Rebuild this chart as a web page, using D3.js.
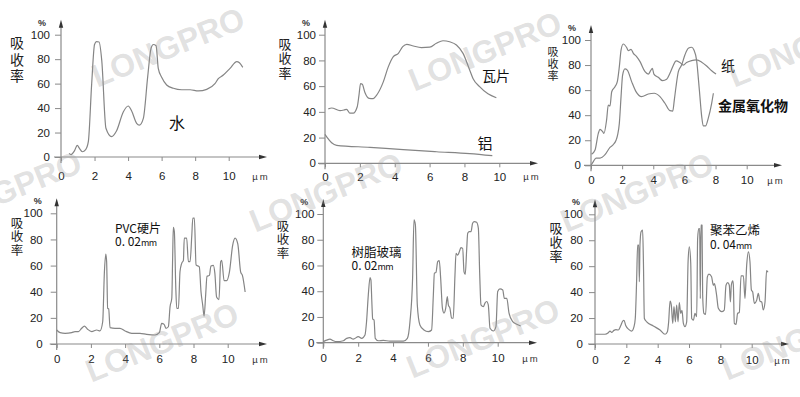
<!DOCTYPE html>
<html>
<head>
<meta charset="utf-8">
<script src="https://cdn.jsdelivr.net/npm/d3@7"></script>
<style>
  body { margin: 0; background: #fff; }
  svg { display: block; font-family: "Liberation Sans", Arial, sans-serif; }
  .cn { font-family: "Noto Sans CJK SC", sans-serif; }
</style>
</head>
<body>
<svg id="chart" width="800" height="397"></svg>
<script>
const xTicks = [0, 2, 4, 6, 8, 10];
const yTicks = [0, 20, 40, 60, 80, 100];

// absorption spectra, [wavelength µm, absorption %]
const water = [[0.48,3],[0.6,2],[0.8,5],[0.97,9.5],[1.1,7],[1.27,4.3],[1.47,6],[1.63,12.5],[1.83,60],[2.0,92],[2.12,94.3],[2.27,94],[2.43,79],[2.68,23.5],[3.02,16.6],[3.3,21],[3.72,37],[4.01,41.7],[4.2,38],[4.51,27.5],[4.67,26],[4.91,31.6],[5.17,65.7],[5.37,88.9],[5.51,92],[5.67,91],[5.8,72.5],[6.01,65],[6.3,58.9],[6.7,56.2],[7.2,55],[7.7,55],[8.19,54],[8.69,55.3],[9.18,60],[9.38,64],[9.68,67],[10.08,72.5],[10.48,78],[10.64,77],[10.84,73.3]];
const tile = [[0.19,42.3],[0.38,43],[0.86,41],[1.1,41.5],[1.24,42],[1.43,39],[1.62,39],[1.85,44],[1.95,53],[2.04,62],[2.14,61.5],[2.29,55],[2.53,50.5],[2.76,50.3],[2.99,53.5],[3.35,63.5],[3.63,75],[3.92,83],[4.21,85.5],[4.46,90.7],[4.69,92.5],[5.07,91.2],[5.53,90],[6.01,90.3],[6.39,93.3],[6.77,95.3],[7.15,94.5],[7.54,92],[7.92,85.5],[8.3,72.6],[8.49,66],[8.87,59.6],[9.35,54],[9.83,51]];
const aluminum = [[0,22.5],[0.13,20],[0.38,16],[0.67,14],[2.58,12.4],[4.49,10.6],[6.4,9],[8.3,7.5],[9.6,5.9]];
const paper = [[0.04,8.8],[0.26,12.2],[0.47,25.5],[0.58,28.7],[0.75,26.8],[0.83,25.5],[1.0,36],[1.11,48],[1.22,47.3],[1.33,58.7],[1.54,62.7],[1.69,66.7],[1.82,78.7],[1.93,92],[2.07,96.8],[2.29,94],[2.4,91.5],[2.57,92.5],[2.72,89.4],[2.93,86.7],[3.15,82.7],[3.47,74.7],[3.68,72.8],[3.83,75.5],[3.94,77.4],[4.04,72.8],[4.32,70.2],[4.6,67.5],[4.86,68.6],[5.07,73.4],[5.29,79.8],[5.46,83.3],[5.71,82],[5.93,80],[6.14,82],[6.46,83.6],[6.78,84.1],[7.11,82.3],[7.43,79.2],[7.75,75.5],[8.03,72.8]];
const metalOxide = [[0,0],[0.15,3],[0.32,5.8],[0.58,5.8],[0.9,8.5],[1.22,14.3],[1.43,16.5],[1.61,20],[1.71,24.3],[1.82,33.5],[1.93,54.8],[2.03,72],[2.18,76.9],[2.33,76],[2.61,66.8],[2.89,58.8],[3.25,54.8],[3.68,56.9],[4.06,57.5],[4.43,54.8],[4.75,49.5],[5.07,43.6],[5.25,43.3],[5.35,52],[5.46,62.7],[5.61,74.7],[5.82,80],[6.03,88],[6.25,93.4],[6.46,94.2],[6.61,92],[6.78,84],[6.96,60],[7.11,38.9],[7.21,31.4],[7.36,31.4],[7.53,37.5],[7.75,49.5],[7.86,57.5]];
const pvc = [[0,10.7],[0.2,8.7],[0.49,8.2],[0.88,8.7],[1.07,9.5],[1.27,9.5],[1.46,12],[1.62,13.7],[1.79,11.5],[2.05,9.5],[2.34,10.7],[2.53,10],[2.69,17],[2.79,55.3],[2.87,68.7],[2.92,63],[2.98,27.3],[3.04,26.8],[3.12,12.5],[3.41,12],[3.7,12],[4.0,10],[4.39,8.2],[4.87,8.2],[5.26,7.4],[5.75,6.9],[6.0,8.7],[6.14,15.8],[6.28,15],[6.39,12],[6.53,13.2],[6.63,28.6],[6.73,35],[6.78,65.6],[6.82,89.3],[6.88,86],[6.96,45],[7.02,27.3],[7.12,27.3],[7.21,55.3],[7.31,61.7],[7.41,64],[7.46,81],[7.6,81],[7.7,63],[7.8,63],[7.9,83],[7.96,96.3],[8.05,96.3],[8.15,60.5],[8.34,59],[8.44,39.8],[8.54,29.6],[8.62,21.4],[8.71,37.2],[8.79,51.8],[8.93,52.5],[9.02,59.7],[9.16,60.2],[9.25,54],[9.35,36],[9.49,34],[9.59,63],[9.65,64],[9.79,48.5],[9.94,48.5],[10.1,55],[10.29,75.5],[10.43,81],[10.59,76.6],[10.76,55],[10.86,52.5],[11.02,39.8]];
const acrylic = [[0,0.8],[0.19,2],[0.38,2.8],[0.57,1.5],[0.77,0.8],[1.15,1.5],[1.34,3.4],[1.53,3.9],[1.72,2.8],[2.01,4.7],[2.2,3.4],[2.39,6],[2.48,16.4],[2.58,37],[2.68,50.6],[2.73,48.8],[2.79,29.4],[2.83,18.5],[2.91,17.6],[2.98,3.4],[3.16,1.5],[3.44,1.8],[3.82,1.2],[4.59,1.2],[4.82,3.4],[4.97,16.4],[5.12,50],[5.2,95.4],[5.28,91.5],[5.39,29.4],[5.54,13.8],[5.77,9.9],[6.02,8.6],[6.21,9.9],[6.31,37],[6.37,54],[6.46,54.7],[6.56,63],[6.65,63.8],[6.73,50],[6.83,26.8],[6.92,23],[7.02,26.8],[7.11,35.8],[7.17,29.4],[7.26,26.8],[7.36,19],[7.45,19],[7.55,52.5],[7.61,69.4],[7.7,68],[7.8,70.7],[7.89,73.8],[7.99,73.3],[8.07,55],[8.14,53],[8.22,72],[8.28,85],[8.37,86.3],[8.47,86.3],[8.56,92.8],[8.66,94.1],[8.79,93.6],[8.89,89],[8.97,52.5],[9.04,29.4],[9.18,28],[9.27,30.7],[9.37,32],[9.46,29.4],[9.56,11.2],[9.75,9.1],[9.9,12.5],[10.0,39.7],[10.13,41.8],[10.29,41],[10.38,34.5],[10.52,34.5],[10.65,23],[10.86,16.4],[11.09,14.3],[11.32,13]];
const polystyrene = [[0,7.5],[0.64,7.5],[0.85,8.7],[0.96,10],[1.06,9],[1.21,10.5],[1.34,11.1],[1.49,10.8],[1.64,14],[1.77,17.7],[1.85,18.3],[1.96,14.2],[2.17,11.1],[2.34,10],[2.49,13.4],[2.57,19.7],[2.66,50.6],[2.72,76.3],[2.79,76.3],[2.83,48],[2.87,76.3],[2.94,86.6],[3.04,87.8],[3.09,63.4],[3.15,19.7],[3.3,17.1],[3.72,13.9],[4.15,10.8],[4.47,7.5],[4.62,9.5],[4.7,17.1],[4.79,33],[4.87,30],[4.96,15.9],[5.04,28.8],[5.13,17.1],[5.21,30],[5.3,17.1],[5.38,32],[5.47,23.6],[5.55,26],[5.64,15.9],[5.74,13.4],[5.85,17.1],[5.94,63.4],[6.02,75],[6.11,62.1],[6.17,19.7],[6.28,18.4],[6.38,23.6],[6.49,21],[6.55,81.3],[6.62,89],[6.68,89],[6.72,35],[6.76,91.6],[6.83,91.6],[6.87,37.7],[6.95,23.6],[7.06,22.8],[7.17,51.8],[7.27,53.8],[7.44,51.8],[7.55,45.3],[7.62,46.6],[7.68,44],[7.76,37.7],[7.87,27.5],[8.08,24.9],[8.25,26.2],[8.36,45.3],[8.47,47.3],[8.57,45.3],[8.64,32.4],[8.7,45.3],[8.79,48.6],[8.83,45.3],[8.89,15.9],[9.0,15.1],[9.1,23.6],[9.21,24.4],[9.32,52.6],[9.47,52.6],[9.57,35],[9.68,60.8],[9.79,71],[9.89,63.4],[9.98,41.6],[10.06,40.3],[10.17,31.3],[10.32,33.8],[10.42,39],[10.53,33],[10.64,32.4],[10.74,26.2],[10.85,32.4],[10.95,56.6],[11.04,55.3]];

const panels = [
  { ox: 61, x10: 228.7, oy: 157, y100: 34.7, xEnd: 267, xPad: 11, yGap: 5, ylabX: 17, ylabY: 43, ylabStep: 16.5, ylabSize: 14,
    series: [water],
    notes: [{ t: '水', x: 177, y: 123, s: 16 }] },
  { ox: 325, x10: 499.3, oy: 163.3, y100: 34.7, xEnd: 538, xPad: 5.5, yGap: 3, ylabX: 285, ylabY: 44, ylabStep: 14.5, ylabSize: 13,
    series: [tile, aluminum],
    notes: [{ t: '瓦片', x: 496, y: 76, s: 14 }, { t: '铝', x: 485, y: 143.5, s: 15 }] },
  { ox: 591, x10: 746.7, oy: 165.3, y100: 40, xEnd: 782, xPad: 6.7, yGap: 4, ylabX: 553, ylabY: 51.7, ylabStep: 12, ylabSize: 11,
    series: [paper, metalOxide],
    notes: [{ t: '纸', x: 728, y: 66, s: 14 }, { t: '金属氧化物', x: 753, y: 106, s: 14, bold: true }] },
  { ox: 56.7, x10: 227.7, oy: 344, y100: 213.3, xEnd: 267, xPad: 7.3, yGap: 8, ylabX: 17, ylabY: 223, ylabStep: 13.5, ylabSize: 12.5,
    series: [pvc],
    notes: [{ t: 'PVC硬片', sub: '0. 02', unit: 'mm', x: 115, y: 228.5, y2: 242, s: 12, left: true }] },
  { ox: 323.3, x10: 497.7, oy: 342.7, y100: 214, xEnd: 537, xPad: 7.6, yGap: 3, ylabX: 283, ylabY: 226, ylabStep: 13.5, ylabSize: 12.5,
    series: [acrylic],
    notes: [{ t: '树脂玻璃', sub: '0. 02', unit: 'mm', x: 351.5, y: 252.5, y2: 266, s: 12.5, left: true }] },
  { ox: 595, x10: 751.7, oy: 344, y100: 214.3, xEnd: 789, xPad: 8, yGap: 6, ylabX: 556, ylabY: 228, ylabStep: 14, ylabSize: 13,
    series: [polystyrene],
    notes: [{ t: '聚苯乙烯', sub: '0. 04', unit: 'mm', x: 710, y: 231, y2: 244.5, s: 12.5, left: true }] }
];

const svg = d3.select('#chart');
svg.append('rect').attr('width', 800).attr('height', 397).attr('fill', '#fff');

const axisColor = '#8a8a8a';
const lineColor = '#858585';
const textColor = '#222';

panels.forEach(p => {
  const x = d3.scaleLinear().domain([0, 10]).range([p.ox, p.x10]);
  const y = d3.scaleLinear().domain([0, 100]).range([p.oy, p.y100]);
  const g = svg.append('g');

  // x axis
  const xa = g.append('g')
    .attr('transform', `translate(0,${ p.oy })`)
    .call(d3.axisBottom(x).tickValues(xTicks).tickSize(4).tickPadding(p.xPad).tickFormat(d3.format('d')));
  xa.select('.domain').remove();
  xa.selectAll('line').attr('stroke', axisColor);
  xa.selectAll('text').attr('fill', textColor).attr('font-size', 11.5);

  // y axis
  const ya = g.append('g')
    .attr('transform', `translate(${ p.ox },0)`)
    .call(d3.axisLeft(y).tickValues(yTicks).tickSize(6).tickPadding(p.yGap).tickFormat(d3.format('d')));
  ya.select('.domain').remove();
  ya.selectAll('line').attr('stroke', axisColor);
  ya.selectAll('text').attr('fill', textColor).attr('font-size', 11.5);

  const yTop = p.y100 - 15;
  g.append('line').attr('x1', p.ox - 7).attr('x2', p.xEnd - 4).attr('y1', p.oy).attr('y2', p.oy)
    .attr('stroke', axisColor).attr('stroke-width', 1.2);
  g.append('line').attr('x1', p.ox).attr('x2', p.ox).attr('y1', p.oy + 6).attr('y2', yTop + 4)
    .attr('stroke', axisColor).attr('stroke-width', 1.2);
  // arrow heads
  g.append('path').attr('d', `M${ p.xEnd },${ p.oy }l-8,-2.2v4.4z`).attr('fill', '#333');
  g.append('path').attr('d', `M${ p.ox },${ yTop }l-2.2,8h4.4z`).attr('fill', '#333');

  g.append('text').attr('x', p.ox - 19).attr('y', yTop + 6).attr('text-anchor', 'middle')
    .attr('font-size', 9).attr('font-weight', 'bold').attr('fill', '#333').text('%');
  g.append('text').attr('x', p.xEnd - 6).attr('y', p.oy + p.xPad + 11.5)
    .attr('text-anchor', 'middle').attr('font-size', 9.5).attr('fill', '#333').attr('letter-spacing', 2).text('µm');

  // vertical y title, one text element
  g.append('text').attr('class', 'cn')
    .attr('x', p.ylabX).attr('y', p.ylabY - p.ylabSize / 2)
    .attr('writing-mode', 'vertical-rl')
    .attr('letter-spacing', p.ylabStep - p.ylabSize)
    .attr('font-size', p.ylabSize).attr('fill', textColor)
    .text('吸收率');

  const line = d3.line().x(d => x(d[0])).y(d => y(d[1])).curve(d3.curveMonotoneX);
  p.series.forEach(s => {
    g.append('path').datum(s).attr('fill', 'none').attr('stroke', lineColor)
      .attr('stroke-width', 1.2).attr('stroke-linejoin', 'round').attr('d', line);
  });

  p.notes.forEach(n => {
    const t = g.append('text').attr('class', 'cn')
      .attr('font-size', n.s).attr('fill', '#111')
      .attr('text-anchor', n.left ? 'start' : 'middle')
      .attr('font-weight', n.bold ? 'bold' : 'normal');
    t.append('tspan').attr('x', n.x).attr('y', n.y).attr('dy', '0.35em').text(n.t);
    if (n.sub) {
      t.append('tspan').attr('x', n.x).attr('y', n.y2).attr('dy', '0.35em').attr('font-size', 12).text(n.sub);
      t.append('tspan').attr('font-size', 9).attr('letter-spacing', -0.5).text(n.unit);
    }
  });
});

// watermark, partly cut at the edges as in the source
const marks = [[168, 47], [485, 51], [805, 47], [5, 191], [326, 192], [637, 192], [162, 342], [483, 338], [798, 340]];
svg.append('g').selectAll('text').data(marks).join('text')
  .attr('transform', d => `translate(${ d[0] },${ d[1] }) rotate(-22)`)
  .attr('text-anchor', 'middle').attr('dy', '0.35em')
  .attr('font-size', 32).attr('font-weight', 'bold')
  .attr('fill', '#9a9a9a').attr('fill-opacity', 0.3)
  .text('LONGPRO');
</script>
</body>
</html>
